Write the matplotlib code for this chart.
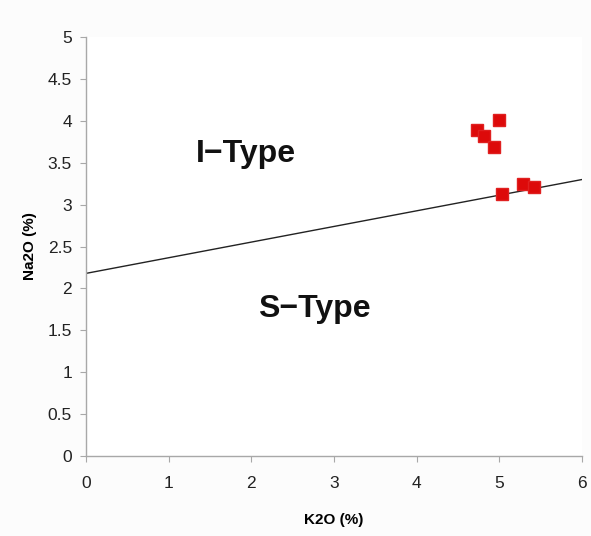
import matplotlib
matplotlib.use("Agg")
import matplotlib.pyplot as plt
import numpy as np

plt.rcParams['font.family'] = ['Liberation Sans', 'DejaVu Sans']

k2o = [4.99, 4.73, 4.81, 4.93, 5.03, 5.28, 5.42]
na2o = [4.01, 3.89, 3.82, 3.69, 3.13, 3.25, 3.21]
line_x = [0, 6]
line_y = [2.18, 3.30]
xticks = [0, 1, 2, 3, 4, 5, 6]
yticks = [0, 0.5, 1, 1.5, 2, 2.5, 3, 3.5, 4, 4.5, 5]
ytick_labels = ['0', '0.5', '1', '1.5', '2', '2.5', '3', '3.5', '4', '4.5', '5']

fig = plt.figure(figsize=(5.91, 5.36), dpi=100)
fig.patch.set_facecolor('#fcfcfc')
ax = fig.add_axes([0.1455, 0.149, 0.8395, 0.782])
ax.set_facecolor('white')

ax.plot(line_x, line_y, color='#222222', lw=1.0, zorder=2)
ax.plot(k2o, na2o, 's', color='#dd0a0a', markersize=8.5, markeredgecolor='#e02020', zorder=3)

ax.text(1.935, 3.51, 'I\u2212Type', fontsize=23, fontweight='bold', ha='center', va='baseline', color='#111111')
ax.text(2.764, 1.66, 'S\u2212Type', fontsize=23, fontweight='bold', ha='center', va='baseline', color='#111111')

ax.set_xlim(0, 6)
ax.set_ylim(0, 5)
ax.set_xticks(xticks)
ax.set_yticks(yticks)
ax.set_yticklabels(ytick_labels)
for s in ['top', 'right']:
    ax.spines[s].set_visible(False)
for s in ['left', 'bottom']:
    ax.spines[s].set_color('#a8a8a8')
    ax.spines[s].set_linewidth(1.0)
ax.tick_params(axis='both', colors='#a8a8a8', labelcolor='#222222', labelsize=12.5, length=4, direction='out')
ax.tick_params(axis='x', pad=10)
ax.tick_params(axis='y', pad=6)

ax.set_xlabel('K2O (%)', fontsize=11, fontweight='bold', labelpad=16)
ax.set_ylabel('Na2O (%)', fontsize=11, fontweight='bold', labelpad=8)

fig.savefig('out.png', dpi=100, facecolor=fig.get_facecolor())
